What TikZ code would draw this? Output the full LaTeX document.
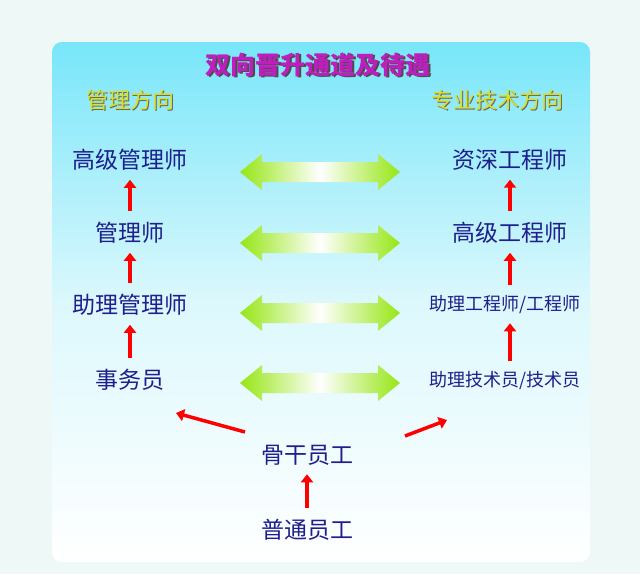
\documentclass[tikz,border=0pt]{standalone}
\usepackage{fontspec}
\setmainfont{Noto Sans CJK SC}
\usetikzlibrary{arrows.meta,positioning}
\definecolor{labblue}{RGB}{30,30,140}
\definecolor{arrgreen}{RGB}{150,230,20}
\definecolor{titlemag}{RGB}{190,30,190}
\definecolor{subyel}{RGB}{215,225,40}
\tikzset{every picture/.style={line width=0.75pt}}
\tikzset{
  rank/.style={text=labblue,font=\fontsize{23}{25}\selectfont,inner sep=0.75pt},
  ranksmall/.style={rank,font=\fontsize{18}{20}\selectfont},
  uparrow/.style={draw=red,line width=3.5pt,-{Triangle[length=8pt,width=12pt]}},
}
\newcommand{\dblarrow}[1]{%
  \shade[left color=arrgreen,right color=arrgreen,middle color=white]
    (240,#1) -- (262,#1-18) -- (262,#1-10) -- (378,#1-10) -- (378,#1-18)
    -- (400,#1) -- (378,#1+18) -- (378,#1+10) -- (262,#1+10) -- (262,#1+18) -- cycle;}
\begin{document}
\begin{tikzpicture}[x=1pt,y=-1pt]
	\fill[fill={rgb,255:red,238;green,248;blue,246}] (0,0) rectangle (640,574);
	\shade[rounded corners=10pt,top color={rgb,255:red,120;green,230;blue,250},bottom color=white,middle color={rgb,255:red,220;green,248;blue,252}] (52,42) rectangle (590,562);
	\useasboundingbox (0,0) rectangle (640,574);

	% title and directions
	\node[text=black!70,font=\fontsize{25}{27}\selectfont\bfseries] at (319.5,66.5) {双向晋升通道及待遇};
	\node (title) [text=titlemag,font=\fontsize{25}{27}\selectfont\bfseries] at (318,65) {双向晋升通道及待遇};
	\node[text=black!60,font=\fontsize{22}{24}\selectfont] at (131.5,101.5) {管理方向};
	\node (mgmt) [text=subyel,font=\fontsize{22}{24}\selectfont] at (130,100) {管理方向};
	\node[text=black!60,font=\fontsize{22}{24}\selectfont] at (498.5,101.5) {专业技术方向};
	\node (tech) [text=subyel,font=\fontsize{22}{24}\selectfont] at (497,100) {专业技术方向};

	% ranks
	\node (m4) [rank] at (130,160) {高级管理师};
	\node (m3) [rank] at (130,233) {管理师};
	\node (m2) [rank] at (130,305) {助理管理师};
	\node (m1) [rank] at (130,380) {事务员};
	\node (t4) [rank] at (510,160) {资深工程师};
	\node (t3) [rank] at (510,233) {高级工程师};
	\node (t2) [ranksmall] at (505,305) {助理工程师/工程师};
	\node (t1) [ranksmall] at (505,381) {助理技术员/技术员};
	\node (core) [rank] at (307,455) {骨干员工};
	\node (base) [rank] at (307,530) {普通员工};
	\coordinate (lfoot) at (245,432);
	\coordinate (lhead) at (176,413);
	\coordinate (rfoot) at (405,436);
	\coordinate (rhead) at (447,420);

	% exchange arrows
	\foreach \y in {172,243,313,383} {\dblarrow{\y}}

	% promotion arrows
	\foreach \a/\b in {m1/m2,m2/m3,m3/m4,base/core} {\draw[uparrow,shorten <=10pt,shorten >=8pt] (\a.north) -- (\b.south);}
	\foreach \a/\b in {t1/t2,t2/t3,t3/t4} {\draw[uparrow,shorten <=10pt,shorten >=8pt] (\a.north -| t4.north) -- (\b.south -| t4.north);}
	\draw[uparrow] (lfoot) -- (lhead);
	\draw[uparrow] (rfoot) -- (rhead);
\end{tikzpicture}
\end{document}
